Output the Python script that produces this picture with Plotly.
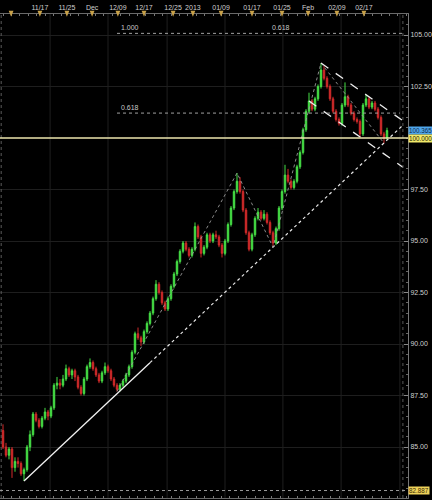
import plotly.graph_objects as go

# ---- price bars (one bar per session) ----
bar = list(range(129))
open_ = [85.8, 85.0, 84.6, 84.9, 84.0, 84.3, 84.2, 83.7, 83.9, 85.0,
         85.6, 86.6, 86.3, 86.0, 86.4, 86.7, 86.5, 86.9, 88.0, 88.1,
         88.0, 88.3, 88.8, 88.5, 88.7, 88.4, 87.9, 87.6, 88.3, 88.9,
         89.1, 88.8, 88.5, 88.2, 88.6, 88.9, 88.7, 88.3, 88.0, 87.8,
         88.0, 88.2, 88.5, 88.9, 89.6, 90.5, 90.3, 90.1, 90.6, 91.0,
         91.5, 92.2, 92.9, 92.5, 92.0, 91.7, 92.2, 92.8, 93.4, 94.0,
         94.5, 94.9, 94.6, 94.3, 94.6, 95.7, 95.2, 94.4, 94.7, 95.3,
         95.0, 95.3, 95.2, 94.8, 94.4, 95.0, 95.8, 96.6, 97.4, 97.9,
         97.4, 96.5, 95.4, 94.6, 95.3, 96.1, 96.4, 96.1, 96.3, 95.9,
         95.4, 94.9, 95.6, 96.6, 97.4, 98.2, 97.9, 97.6, 97.9, 98.6,
         99.3, 100.4, 101.3, 101.8, 101.4, 101.9, 102.5, 103.3, 102.9, 102.5,
         101.9, 101.3, 100.9, 100.7, 101.6, 102.0, 101.6, 101.2, 100.9, 100.8,
         100.2, 101.6, 101.9, 101.5, 101.7, 101.4, 101.0, 100.2, 100.0]
high = [86.1, 85.2, 85.0, 85.0, 84.5, 84.5, 84.3, 84.0, 85.1, 85.8,
        86.7, 86.7, 86.4, 86.5, 86.9, 86.8, 87.0, 88.1, 88.4, 88.3,
        88.5, 89.0, 88.9, 88.8, 88.8, 88.5, 88.0, 88.4, 89.0, 89.3,
        89.2, 88.9, 88.6, 88.7, 89.1, 89.0, 88.8, 88.4, 88.1, 88.1,
        88.3, 88.6, 89.0, 89.7, 90.6, 90.8, 90.4, 90.7, 91.1, 91.6,
        92.3, 93.1, 93.0, 92.6, 92.1, 92.3, 92.9, 93.5, 94.1, 94.6,
        95.0, 95.0, 94.7, 94.7, 95.9, 95.8, 95.3, 94.8, 95.4, 95.4,
        95.4, 95.5, 95.3, 94.9, 95.1, 95.9, 96.7, 97.5, 98.3, 98.1,
        97.5, 96.6, 95.5, 95.4, 96.2, 96.6, 96.5, 96.5, 96.4, 96.0,
        95.5, 95.7, 96.7, 97.5, 98.7, 98.5, 98.0, 98.0, 98.7, 99.4,
        100.5, 101.4, 102.2, 101.9, 102.0, 102.6, 103.64, 103.5, 103.0, 102.6,
        102.0, 101.4, 101.0, 101.7, 102.7, 102.1, 101.7, 101.3, 101.0, 100.9,
        101.7, 102.1, 102.0, 101.8, 101.8, 101.5, 101.1, 100.3, 100.5]
low = [84.9, 84.5, 84.4, 83.5, 83.8, 84.0, 83.6, 83.35, 83.8, 84.8,
       85.5, 86.2, 85.9, 85.9, 86.3, 86.3, 86.4, 86.8, 87.8, 87.8,
       87.9, 88.2, 88.4, 88.3, 88.2, 87.8, 87.5, 87.5, 88.2, 88.8,
       88.7, 88.4, 88.1, 88.1, 88.5, 88.6, 88.2, 87.9, 87.7, 87.7,
       87.9, 88.1, 88.4, 88.8, 89.5, 90.2, 89.9, 90.0, 90.5, 90.9,
       91.4, 92.1, 92.4, 91.9, 91.6, 91.6, 92.1, 92.7, 93.3, 93.9,
       94.4, 94.5, 94.2, 94.2, 94.5, 95.1, 94.2, 94.3, 94.6, 94.9,
       94.9, 95.1, 94.7, 94.2, 94.3, 94.9, 95.7, 96.5, 97.3, 97.3,
       96.4, 95.3, 94.5, 94.5, 95.2, 96.0, 96.0, 96.0, 95.8, 95.3,
       94.7, 94.8, 95.5, 96.5, 97.3, 97.8, 97.5, 97.5, 97.8, 98.5,
       99.2, 100.3, 101.2, 101.3, 101.3, 101.8, 102.4, 102.8, 102.4, 101.8,
       101.2, 100.8, 100.6, 100.6, 101.5, 101.5, 101.1, 100.8, 100.7, 100.05,
       100.1, 101.5, 101.4, 101.4, 101.3, 100.9, 100.1, 99.75, 99.9]
close = [85.0, 84.6, 84.9, 84.0, 84.3, 84.2, 83.7, 83.9, 85.0, 85.6,
         86.6, 86.3, 86.0, 86.4, 86.7, 86.5, 86.9, 88.0, 88.1, 88.0,
         88.3, 88.8, 88.5, 88.7, 88.4, 87.9, 87.6, 88.3, 88.9, 89.1,
         88.8, 88.5, 88.2, 88.6, 88.9, 88.7, 88.3, 88.0, 87.8, 88.0,
         88.2, 88.5, 88.9, 89.6, 90.5, 90.3, 90.1, 90.6, 91.0, 91.5,
         92.2, 92.9, 92.5, 92.0, 91.7, 92.2, 92.8, 93.4, 94.0, 94.5,
         94.9, 94.6, 94.3, 94.6, 95.7, 95.2, 94.4, 94.7, 95.3, 95.0,
         95.3, 95.2, 94.8, 94.4, 95.0, 95.8, 96.6, 97.4, 97.9, 97.4,
         96.5, 95.4, 94.6, 95.3, 96.1, 96.4, 96.1, 96.3, 95.9, 95.4,
         94.9, 95.6, 96.6, 97.4, 98.2, 97.9, 97.6, 97.9, 98.6, 99.3,
         100.4, 101.3, 101.8, 101.4, 101.9, 102.5, 103.3, 102.9, 102.5, 101.9,
         101.3, 100.9, 100.7, 101.6, 102.0, 101.6, 101.2, 100.9, 100.8, 100.2,
         101.6, 101.9, 101.5, 101.7, 101.4, 101.0, 100.2, 100.0, 100.365]

# ---- time axis (top) ----
date_ticks = [12.3, 21.3, 29.7, 38.3, 47.0, 56.7, 63.3, 72.7, 83.0, 93.0, 101.7, 111.3, 120.3]
date_labels = ["11/17", "11/25", "Dec", "12/09", "12/17", "12/25", "2013",
               "01/09", "01/17", "01/25", "Feb", "02/09", "02/17"]
marker_ticks = [2.7] + date_ticks
week_grid = [15.7, 35.0, 54.7, 74.0, 93.3, 112.7, 132.3]

# ---- price axis (right) ----
price_ticks = [85.0, 87.5, 90.0, 92.5, 95.0, 97.5, 102.5, 105.0]
last_price = 100.365
level_price = 100.0
low_mark = 82.887

# ---- drawing tools ----
fib_upper = 105.08
fib_lower = 101.21
fib_start = 38
trend_anchor = [7, 90]          # lows carried by the support line
trend_solid_end = 49
zigzag_pivots = [(38, "low"), (78, "high"), (90, "low"), (106, "high"), (127, "low")]
channel_highs = [106, 121]
channel_low = 119
channel_low_start = 102
right_edge = 133.3

X_RANGE = [-1, 135]
Y_RANGE = [82.524, 106.02]

GREEN = "#46e046"
RED = "#d22a2a"
TEXT = "#cfcfcf"
FONT = "Liberation Sans"

fig = go.Figure()

fig.add_trace(go.Candlestick(
    x=bar, open=open_, high=high, low=low, close=close,
    increasing=dict(line=dict(color=GREEN, width=1), fillcolor=GREEN),
    decreasing=dict(line=dict(color=RED, width=1), fillcolor=RED),
    whiskerwidth=0, showlegend=False, hoverinfo="skip",
))

# support line through two swing lows, solid first then dotted
a, b = trend_anchor
slope = (low[b] - low[a]) / (b - a)
def trend_at(x):
    return low[a] + slope * (x - a)
fig.add_trace(go.Scatter(x=[a, trend_solid_end], y=[trend_at(a), trend_at(trend_solid_end)],
                         mode="lines", line=dict(color="#f2f2f2", width=1.3),
                         showlegend=False, hoverinfo="skip"))
fig.add_trace(go.Scatter(x=[trend_solid_end, right_edge], y=[trend_at(trend_solid_end), trend_at(right_edge)],
                         mode="lines", line=dict(color="#e8e8e8", width=1.2, dash="dot"),
                         showlegend=False, hoverinfo="skip"))

# zigzag joining the swing points
zz_x = [p for p, _ in zigzag_pivots]
zz_y = [high[p] if kind == "high" else low[p] for p, kind in zigzag_pivots]
fig.add_trace(go.Scatter(x=zz_x, y=zz_y, mode="lines",
                         line=dict(color="#9a9a9a", width=0.9, dash="dot"),
                         showlegend=False, hoverinfo="skip"))

# falling channel
h0, h1 = channel_highs
cslope = (high[h1] - high[h0]) / (h1 - h0)
fig.add_trace(go.Scatter(x=[h0, right_edge], y=[high[h0], high[h0] + cslope * (right_edge - h0)],
                         mode="lines", line=dict(color="#eeeeee", width=1.3, dash="dash"),
                         showlegend=False, hoverinfo="skip"))
lo_y0 = low[channel_low] + cslope * (channel_low_start - channel_low)
lo_y1 = low[channel_low] + cslope * (right_edge - channel_low)
fig.add_trace(go.Scatter(x=[channel_low_start, right_edge], y=[lo_y0, lo_y1],
                         mode="lines", line=dict(color="#eeeeee", width=1.3, dash="dash"),
                         showlegend=False, hoverinfo="skip"))

shapes = []
# faint vertical grid
for g in week_grid:
    shapes.append(dict(type="line", xref="x", yref="paper", x0=g, x1=g, y0=0, y1=1,
                       line=dict(color="#1f1f1f", width=1), layer="below"))
# left and right dotted borders
shapes.append(dict(type="line", xref="x", yref="paper", x0=-0.6, x1=-0.6, y0=0, y1=1,
                   line=dict(color="#5a5a5a", width=1, dash="dot")))
shapes.append(dict(type="line", xref="x", yref="paper", x0=right_edge, x1=right_edge, y0=0, y1=1,
                   line=dict(color="#5a5a5a", width=1, dash="dot")))
# horizontal level and low marker
shapes.append(dict(type="line", xref="paper", yref="y", x0=0, x1=1, y0=level_price, y1=level_price,
                   line=dict(color="#ece6ae", width=1.5)))
shapes.append(dict(type="line", xref="paper", yref="y", x0=0, x1=1, y0=low_mark, y1=low_mark,
                   line=dict(color="#9a9a9a", width=1, dash="dot")))
# fibonacci levels
shapes.append(dict(type="line", xref="x", yref="y", x0=fib_start, x1=right_edge + 0.3,
                   y0=fib_upper, y1=fib_upper, line=dict(color="#a0a0a0", width=1, dash="dot")))
shapes.append(dict(type="line", xref="x", yref="y", x0=fib_start, x1=right_edge - 1.0,
                   y0=fib_lower, y1=fib_lower, line=dict(color="#a0a0a0", width=1, dash="dot")))
# tick markers on the time axis
for t in marker_ticks:
    shapes.append(dict(type="path", xref="x", yref="paper",
                       path=f"M {t - 0.8},1.0065 L {t + 0.8},1.0065 L {t},0.9945 Z",
                       fillcolor="#c9a24a", line=dict(width=0)))

annotations = [
    dict(x=fib_start + 0.8, y=fib_upper, xref="x", yref="y", text="1.000", showarrow=False,
         xanchor="left", yanchor="bottom", yshift=0, font=dict(size=7, color="#c8c8c8", family=FONT)),
    dict(x=92.7, y=fib_upper, xref="x", yref="y", text="0.618", showarrow=False,
         xanchor="center", yanchor="bottom", yshift=0, font=dict(size=7, color="#c8c8c8", family=FONT)),
    dict(x=fib_start + 0.5, y=fib_lower, xref="x", yref="y", text="0.618", showarrow=False,
         xanchor="left", yanchor="bottom", yshift=0, font=dict(size=7, color="#c8c8c8", family=FONT)),
    dict(x=1, y=last_price, xref="paper", yref="y", text=f"{last_price:.3f}", showarrow=False,
         xanchor="left", yanchor="middle", xshift=0, bgcolor="#4fa6ea", borderpad=0,
         font=dict(size=6.3, color="#0e2a4a", family=FONT)),
    dict(x=1, y=level_price, xref="paper", yref="y", text=f"{level_price:.3f}", showarrow=False,
         xanchor="left", yanchor="middle", xshift=0, bgcolor="#f2ea6a", borderpad=0,
         font=dict(size=6.3, color="#202000", family=FONT)),
    dict(x=1, y=low_mark, xref="paper", yref="y", text=f"{low_mark:.3f}", showarrow=False,
         xanchor="left", yanchor="middle", xshift=0, bgcolor="#eed25a", borderpad=0,
         font=dict(size=6.3, color="#3a2a00", family=FONT)),
]

fig.update_layout(
    width=432, height=500,
    margin=dict(l=0, r=24, t=14, b=2),
    paper_bgcolor="#000000", plot_bgcolor="#000000",
    font=dict(family=FONT, size=7, color=TEXT),
    shapes=shapes, annotations=annotations,
    showlegend=False,
    xaxis=dict(
        range=X_RANGE, side="top", rangeslider=dict(visible=False),
        tickmode="array", tickvals=date_ticks, ticktext=date_labels, tickangle=0,
        ticks="", showgrid=False, zeroline=False,
        showline=True, linecolor="#6a6a6a", linewidth=1, mirror="allticks",
        tickfont=dict(size=7, color=TEXT, family=FONT),
        minor=dict(tickmode="linear", tick0=0, dtick=2.8, ticks="inside", ticklen=2,
                   tickcolor="#777777", showgrid=False),
        automargin=False, fixedrange=True,
    ),
    yaxis=dict(
        range=Y_RANGE, side="right",
        tickmode="array", tickvals=price_ticks, ticktext=[f"{v:.2f}" for v in price_ticks],
        ticks="inside", ticklen=4, tickcolor="#888888",
        showgrid=True, gridcolor="#1e1e1e", gridwidth=1, zeroline=False,
        showline=True, linecolor="#777777", linewidth=1,
        tickfont=dict(size=7, color=TEXT, family=FONT),
        minor=dict(tickmode="linear", tick0=0, dtick=0.5, ticks="inside", ticklen=2,
                   tickcolor="#666666", showgrid=False),
        automargin=False, fixedrange=True,
    ),
)

fig.write_html("out.html")
